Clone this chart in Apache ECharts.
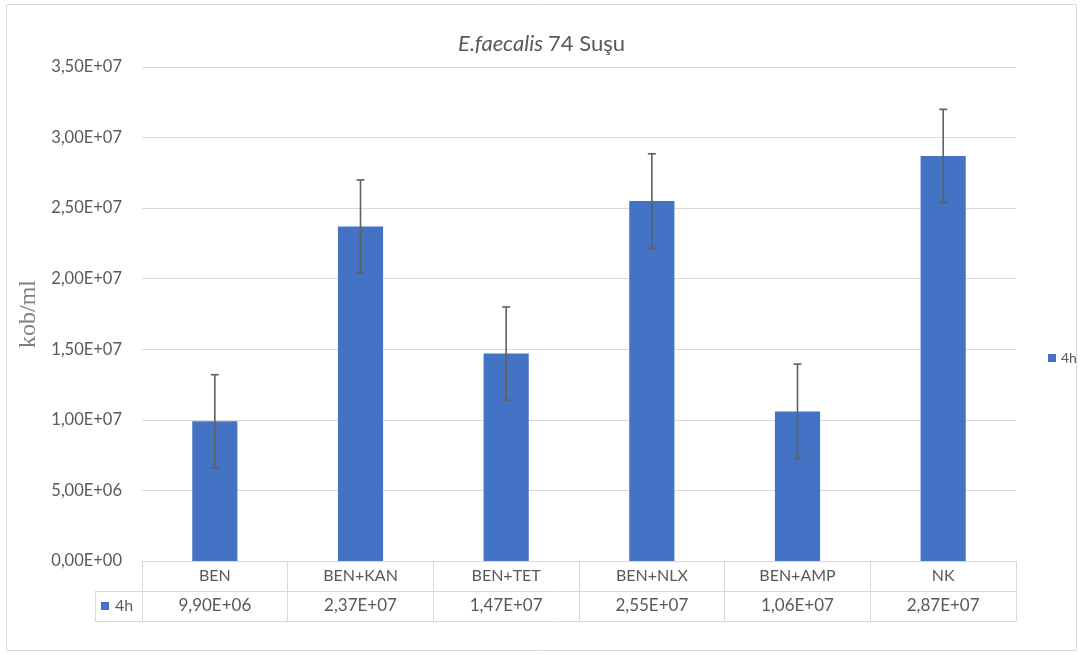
<!DOCTYPE html>
<html>
<head>
<meta charset="utf-8">
<script src="https://cdn.jsdelivr.net/npm/echarts@6/dist/echarts.min.js"></script>
<style>
  html, body { margin: 0; padding: 0; background: #ffffff; }
  #chart { width: 1083px; height: 655px; }
</style>
</head>
<body>
<div id="chart"></div>
<script>
// Groups tested and the 4h counts (kob/ml)
const categories = ['BEN', 'BEN+KAN', 'BEN+TET', 'BEN+NLX', 'BEN+AMP', 'NK'];
const seriesName = '4h';
const values4h = [9.90e6, 2.37e7, 1.47e7, 2.55e7, 1.06e7, 2.87e7];
// Standard deviation for each group
const errors4h = [3.3e6, 3.3e6, 3.3e6, 3.35e6, 3.35e6, 3.3e6];
const yTicks = { min: 0, max: 3.5e7, step: 5e6 };

// Scientific notation with decimal comma, e.g. 9,90E+06
function sci(v) {
  if (v === 0) return '0,00E+00';
  const [m, e] = v.toExponential(2).split('e');
  const exp = parseInt(e, 10);
  const sign = exp < 0 ? '-' : '+';
  const ee = String(Math.abs(exp)).padStart(2, '0');
  return m.replace('.', ',') + 'E' + sign + ee;
}

const G = { left: 142, right: 67, top: 67, bottom: 94 };
const W = 1083, H = 655;
const rowH = 30;
const textColor = '#595959';
const lineColor = '#d9d9d9';
const barColor = '#4472C4';

const chart = echarts.init(document.getElementById('chart'), null, { renderer: 'canvas' });

const plotBottom = H - G.bottom;
const plotRight = W - G.right;

const option = {
  backgroundColor: '#ffffff',
  animation: false,
  title: {
    text: '{i|E.faecalis} {n|74 Suşu}',
    left: 'center',
    top: 28,
    textStyle: {
      fontWeight: 'normal',
      rich: {
        i: { fontFamily: 'Lato', fontStyle: 'italic', fontWeight: 'normal', fontSize: 22, color: textColor },
        n: { fontFamily: 'Lato', fontWeight: 'normal', fontSize: 22, color: textColor }
      }
    }
  },
  legend: {
    data: [seriesName],
    orient: 'vertical',
    left: 1043,
    top: 346,
    itemWidth: 8,
    itemHeight: 8,
    itemGap: 4,
    icon: 'rect',
    textStyle: { fontFamily: 'Lato', fontSize: 14, color: textColor }
  },
  grid: { left: G.left, right: G.right, top: G.top, bottom: G.bottom, containLabel: false },
  xAxis: {
    type: 'category',
    data: categories,
    axisLine: { show: true, lineStyle: { color: lineColor, width: 1 } },
    axisTick: { show: true, interval: 0, length: rowH * 2, lineStyle: { color: lineColor, width: 1 } },
    axisLabel: {
      interval: 0,
      margin: 0,
      formatter: function (val, idx) {
        return '{c|' + val + '}\n{v|' + sci(values4h[idx]) + '}';
      },
      rich: {
        c: { fontFamily: 'Lato', fontSize: 16, color: textColor, lineHeight: rowH, height: rowH, verticalAlign: 'middle' },
        v: { fontFamily: 'Lato', fontSize: 17, color: textColor, lineHeight: rowH, height: rowH, verticalAlign: 'middle' }
      }
    }
  },
  yAxis: {
    type: 'value',
    min: yTicks.min,
    max: yTicks.max,
    interval: yTicks.step,
    name: 'kob/ml',
    nameLocation: 'middle',
    nameGap: 97,
    nameRotate: 90,
    nameTextStyle: { fontFamily: 'Liberation Serif', fontSize: 24, color: '#7f7f7f' },
    axisLine: { show: false },
    axisTick: { show: false },
    axisLabel: {
      margin: 20,
      fontFamily: 'Lato',
      fontSize: 16.5,
      color: textColor,
      formatter: v => sci(v)
    },
    splitLine: { show: true, lineStyle: { color: lineColor, width: 1 } }
  },
  series: [
    {
      name: seriesName,
      type: 'bar',
      data: values4h,
      barWidth: '31%',
      itemStyle: { color: barColor }
    },
    {
      name: 'err',
      type: 'custom',
      data: values4h.map((v, i) => [i, v, errors4h[i]]),
      encode: { x: 0, y: 1 },
      z: 5,
      renderItem: function (params, api) {
        const i = api.value(0);
        const v = api.value(1);
        const e = api.value(2);
        const hi = api.coord([i, v + e]);
        const lo = api.coord([i, v - e]);
        const cap = 4;
        const style = { stroke: '#606060', lineWidth: 1.6 };
        return {
          type: 'group',
          children: [
            { type: 'line', shape: { x1: hi[0], y1: hi[1], x2: lo[0], y2: lo[1] }, style: style },
            { type: 'line', shape: { x1: hi[0] - cap, y1: hi[1], x2: hi[0] + cap, y2: hi[1] }, style: style },
            { type: 'line', shape: { x1: lo[0] - cap, y1: lo[1], x2: lo[0] + cap, y2: lo[1] }, style: style }
          ]
        };
      }
    }
  ],
  graphic: [
    // outer chart frame
    { type: 'rect', shape: { x: 6.5, y: 4.5, width: 1070, height: 646 }, style: { fill: null, stroke: lineColor, lineWidth: 1 }, silent: true },
    // data table: horizontal rules
    { type: 'line', shape: { x1: 95, y1: plotBottom + rowH + 0.5, x2: plotRight, y2: plotBottom + rowH + 0.5 }, style: { stroke: lineColor, lineWidth: 1 } },
    { type: 'line', shape: { x1: 95, y1: plotBottom + rowH * 2 + 0.5, x2: plotRight, y2: plotBottom + rowH * 2 + 0.5 }, style: { stroke: lineColor, lineWidth: 1 } },
    // data table: left border of the series column
    { type: 'line', shape: { x1: 95.5, y1: plotBottom + rowH, x2: 95.5, y2: plotBottom + rowH * 2 }, style: { stroke: lineColor, lineWidth: 1 } },
    // series key in the table
    { type: 'rect', shape: { x: 101, y: plotBottom + rowH + 11, width: 8, height: 8 }, style: { fill: barColor } },
    { type: 'text', x: 115, y: plotBottom + rowH + 15, style: { text: seriesName, fontFamily: 'Lato', fontSize: 16, fill: textColor, verticalAlign: 'middle' } }
  ]
};

chart.setOption(option);
</script>
</body>
</html>
